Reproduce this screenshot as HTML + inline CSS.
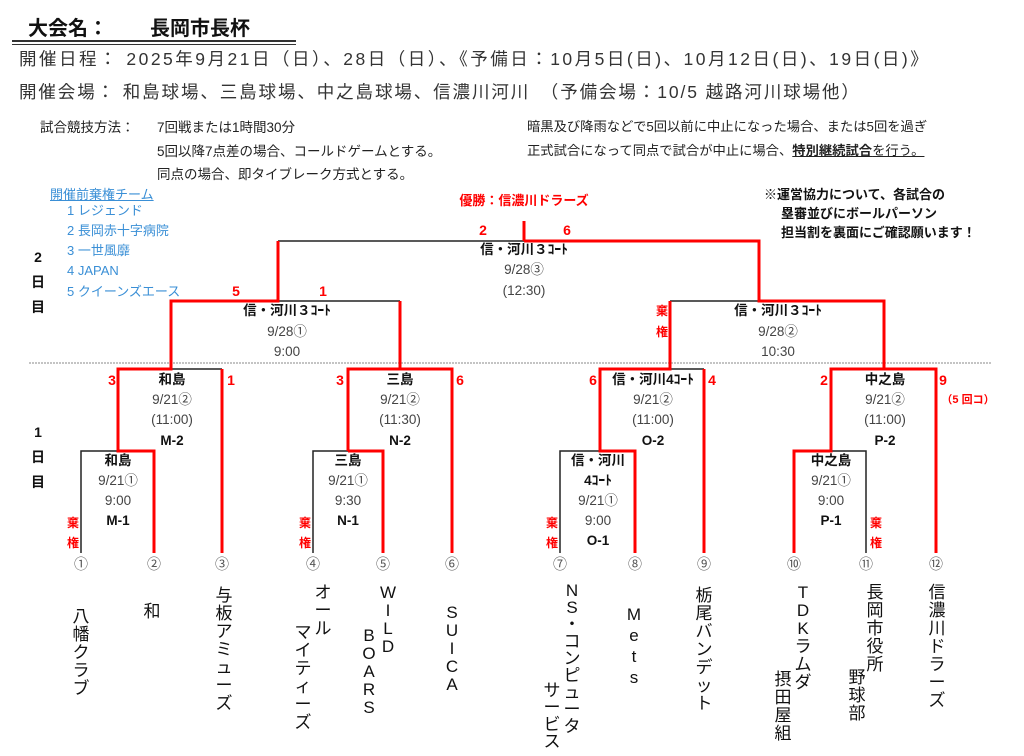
<!DOCTYPE html>
<html><head><meta charset="utf-8">
<style>
html,body{margin:0;padding:0;background:#fff;}
body{width:1024px;height:756px;position:relative;overflow:hidden;font-family:"Liberation Sans","Noto Sans CJK JP",sans-serif;color:#222;}
.a{position:absolute;white-space:nowrap;}
.c{position:absolute;white-space:nowrap;transform:translate(-50%,-50%);text-align:center;line-height:16px;}
.b{font-weight:bold;color:#111;}
.l{font-size:13.5px;color:#444;}
.r{color:#f00;font-weight:bold;font-size:14px;}
.k{color:#f00;font-weight:bold;font-size:12px;}
.n{font-size:14px;color:#555;}
.v{position:absolute;font-size:17px;line-height:18px;width:20px;text-align:center;transform:translateX(-50%);color:#111;}
.blue{color:#3a8fd6;font-size:13px;line-height:16px;height:16px;}
</style></head><body>
<div class="a b" style="left:28px;top:12px;font-size:20px;">大会名：</div>
<div class="a b" style="left:150px;top:12px;font-size:20px;">長岡市長杯</div>
<div class="a" style="left:12px;top:40px;width:284px;border-top:2px solid #333;border-bottom:1.5px solid #333;height:2px;"></div>
<div class="a" style="left:19px;top:48px;font-size:17.5px;letter-spacing:2.5px;color:#333;line-height:22px;">開催日程： 2025年9月21日（日）、28日（日）、《予備日：10月5日(日)、10月12日(日)、19日(日)》</div>
<div class="a" style="left:19px;top:81px;font-size:17.5px;letter-spacing:1.9px;color:#333;line-height:22px;">開催会場： 和島球場、三島球場、中之島球場、信濃川河川　（予備会場：10/5 越路河川球場他）</div>
<div class="a" style="left:40px;top:116px;font-size:13.5px;">試合競技方法：</div>
<div class="a" style="left:157px;top:116px;font-size:13.5px;">7回戦または1時間30分</div>
<div class="a" style="left:157px;top:140px;font-size:13.5px;">5回以降7点差の場合、コールドゲームとする。</div>
<div class="a" style="left:157px;top:163px;font-size:13.5px;">同点の場合、即タイブレーク方式とする。</div>
<div class="a" style="left:527px;top:116px;font-size:13.3px;">暗黒及び降雨などで5回以前に中止になった場合、または5回を過ぎ</div>
<div class="a" style="left:527px;top:140px;font-size:13.3px;">正式試合になって同点で試合が中止に場合、<span style="text-decoration:underline;font-weight:bold">特別継続試合</span><span style="text-decoration:underline">を行う。</span></div>

<div class="a blue" style="left:50px;top:187px;text-decoration:underline;">開催前棄権チーム</div>
<div class="a blue" style="left:67px;top:203px;">1 レジェンド</div>
<div class="a blue" style="left:67px;top:223px;">2 長岡赤十字病院</div>
<div class="a blue" style="left:67px;top:243px;">3 一世風靡</div>
<div class="a blue" style="left:67px;top:263px;">4 JAPAN</div>
<div class="a blue" style="left:67px;top:284px;">5 クイーンズエース</div>

<div class="a b" style="left:764px;top:184px;font-size:13px;">※運営協力について、各試合の</div>
<div class="a b" style="left:781px;top:203px;font-size:13px;">塁審並びにボールパーソン</div>
<div class="a b" style="left:781px;top:222px;font-size:13px;">担当割を裏面にご確認願います！</div>

<div class="c b" style="left:38px;top:257px;font-size:14px;">2</div>
<div class="c b" style="left:38px;top:282px;font-size:14px;">日</div>
<div class="c b" style="left:38px;top:307px;font-size:14px;">目</div>
<div class="c b" style="left:38px;top:432px;font-size:14px;">1</div>
<div class="c b" style="left:38px;top:457px;font-size:14px;">日</div>
<div class="c b" style="left:38px;top:482px;font-size:14px;">目</div>

<svg class="a" style="left:0;top:0" width="1024" height="756">
<line x1="29" y1="363" x2="992" y2="363" stroke="#888" stroke-width="1" stroke-dasharray="2,1"/>
<g fill="none" stroke="#222" stroke-width="1.5">
<line x1="278" y1="241" x2="524" y2="241"/>
<line x1="278" y1="301" x2="400" y2="301"/>
<line x1="670" y1="301" x2="759" y2="301"/>
<line x1="171" y1="369" x2="222" y2="369"/>
<line x1="670" y1="369" x2="704" y2="369"/>
<polyline points="81,553 81,451 118,451"/>
<polyline points="313,553 313,451 348,451"/>
<polyline points="560,553 560,451 600,451"/>
<polyline points="831,451 866,451 866,553"/>
</g>
<g fill="none" stroke="#f00" stroke-width="3">
<line x1="524" y1="221" x2="524" y2="241"/>
<polyline points="524,241 759,241 759,301 884,301 884,369"/>
<polyline points="278,241 278,301 171,301 171,369 118,369 118,451 154,451 154,553"/>
<polyline points="400,301 400,369"/>
<line x1="222" y1="369" x2="222" y2="553"/>
<polyline points="348,451 348,369 452,369 452,553"/>
<polyline points="348,451 383,451 383,553"/>
<polyline points="670,301 670,369 600,369 600,451 635,451 635,553"/>
<line x1="704" y1="369" x2="704" y2="553"/>
<polyline points="794,553 794,451 831,451 831,369 936,369 936,553"/>
</g>
</svg>

<div class="c r" style="left:524px;top:201px;font-size:13px;">優勝：信濃川ドラーズ</div>
<div class="c r" style="left:483px;top:230px;">2</div>
<div class="c r" style="left:567px;top:230px;">6</div>
<div class="c b l" style="left:524px;top:250px;color:#111">信・河川３ｺｰﾄ</div>
<div class="c l" style="left:524px;top:270px;">9/28③</div>
<div class="c l" style="left:524px;top:291px;">(12:30)</div>

<div class="c r" style="left:236px;top:291px;">5</div>
<div class="c r" style="left:323px;top:291px;">1</div>
<div class="c b l" style="left:287px;top:311px;color:#111">信・河川３ｺｰﾄ</div>
<div class="c l" style="left:287px;top:332px;">9/28①</div>
<div class="c l" style="left:287px;top:352px;">9:00</div>

<div class="c k" style="left:662px;top:311px;">棄</div>
<div class="c k" style="left:662px;top:332px;">権</div>
<div class="c b l" style="left:778px;top:311px;color:#111">信・河川３ｺｰﾄ</div>
<div class="c l" style="left:778px;top:332px;">9/28②</div>
<div class="c l" style="left:778px;top:352px;">10:30</div>

<div class="c r" style="left:112px;top:380px;">3</div>
<div class="c r" style="left:231px;top:380px;">1</div>
<div class="c b l" style="left:172px;top:380px;color:#111">和島</div>
<div class="c l" style="left:172px;top:400px;">9/21②</div>
<div class="c l" style="left:172px;top:420px;">(11:00)</div>
<div class="c b l" style="left:172px;top:441px;color:#111">M-2</div>
<div class="c b l" style="left:118px;top:461px;color:#111">和島</div>
<div class="c l" style="left:118px;top:481px;">9/21①</div>
<div class="c l" style="left:118px;top:501px;">9:00</div>
<div class="c b l" style="left:118px;top:521px;color:#111">M-1</div>
<div class="c k" style="left:73px;top:523px;">棄</div>
<div class="c k" style="left:73px;top:543px;">権</div>

<div class="c r" style="left:340px;top:380px;">3</div>
<div class="c r" style="left:460px;top:380px;">6</div>
<div class="c b l" style="left:400px;top:380px;color:#111">三島</div>
<div class="c l" style="left:400px;top:400px;">9/21②</div>
<div class="c l" style="left:400px;top:420px;">(11:30)</div>
<div class="c b l" style="left:400px;top:441px;color:#111">N-2</div>
<div class="c b l" style="left:348px;top:461px;color:#111">三島</div>
<div class="c l" style="left:348px;top:481px;">9/21①</div>
<div class="c l" style="left:348px;top:501px;">9:30</div>
<div class="c b l" style="left:348px;top:521px;color:#111">N-1</div>
<div class="c k" style="left:305px;top:523px;">棄</div>
<div class="c k" style="left:305px;top:543px;">権</div>

<div class="c r" style="left:593px;top:380px;">6</div>
<div class="c r" style="left:712px;top:380px;">4</div>
<div class="c b l" style="left:653px;top:380px;color:#111">信・河川4ｺｰﾄ</div>
<div class="c l" style="left:653px;top:400px;">9/21②</div>
<div class="c l" style="left:653px;top:420px;">(11:00)</div>
<div class="c b l" style="left:653px;top:441px;color:#111">O-2</div>
<div class="c b l" style="left:598px;top:461px;color:#111">信・河川</div>
<div class="c b l" style="left:598px;top:481px;color:#111">4ｺｰﾄ</div>
<div class="c l" style="left:598px;top:501px;">9/21①</div>
<div class="c l" style="left:598px;top:521px;">9:00</div>
<div class="c b l" style="left:598px;top:541px;color:#111">O-1</div>
<div class="c k" style="left:552px;top:523px;">棄</div>
<div class="c k" style="left:552px;top:543px;">権</div>

<div class="c r" style="left:824px;top:380px;">2</div>
<div class="c r" style="left:943px;top:380px;">9</div>
<div class="c k" style="left:968px;top:400px;font-size:11px;">（5 回コ）</div>
<div class="c b l" style="left:885px;top:380px;color:#111">中之島</div>
<div class="c l" style="left:885px;top:400px;">9/21②</div>
<div class="c l" style="left:885px;top:420px;">(11:00)</div>
<div class="c b l" style="left:885px;top:441px;color:#111">P-2</div>
<div class="c b l" style="left:831px;top:461px;color:#111">中之島</div>
<div class="c l" style="left:831px;top:481px;">9/21①</div>
<div class="c l" style="left:831px;top:501px;">9:00</div>
<div class="c b l" style="left:831px;top:521px;color:#111">P-1</div>
<div class="c k" style="left:876px;top:523px;">棄</div>
<div class="c k" style="left:876px;top:543px;">権</div>

<div class="c n" style="left:81px;top:564px;">①</div>
<div class="c n" style="left:154px;top:564px;">②</div>
<div class="c n" style="left:222px;top:564px;">③</div>
<div class="c n" style="left:313px;top:564px;">④</div>
<div class="c n" style="left:383px;top:564px;">⑤</div>
<div class="c n" style="left:452px;top:564px;">⑥</div>
<div class="c n" style="left:560px;top:564px;">⑦</div>
<div class="c n" style="left:635px;top:564px;">⑧</div>
<div class="c n" style="left:704px;top:564px;">⑨</div>
<div class="c n" style="left:794px;top:564px;">⑩</div>
<div class="c n" style="left:866px;top:564px;">⑪</div>
<div class="c n" style="left:936px;top:564px;">⑫</div>

<div class="v" style="left:81px;top:608px;">八<br>幡<br>ク<br>ラ<br>ブ</div>
<div class="v" style="left:152px;top:603px;">和</div>
<div class="v" style="left:224px;top:587px;">与<br>板<br>ア<br>ミ<br>ュ<br>ー<br>ズ</div>
<div class="v" style="left:323px;top:584px;">オ<br>ー<br>ル</div>
<div class="v" style="left:303px;top:624px;">マ<br>イ<br>テ<br>ィ<br>ー<br>ズ</div>
<div class="v" style="left:388px;top:584px;">W<br>I<br>L<br>D</div>
<div class="v" style="left:369px;top:627px;">B<br>O<br>A<br>R<br>S</div>
<div class="v" style="left:452px;top:604px;">S<br>U<br>I<br>C<br>A</div>
<div class="v" style="left:572px;top:582px;line-height:17px;">N<br>S<br>・<br>コ<br>ン<br>ピ<br>ュ<br>ー<br>タ</div>
<div class="v" style="left:552px;top:682px;line-height:17px;">サ<br>ー<br>ビ<br>ス</div>
<div class="v" style="left:634px;top:604px;line-height:21px;">M<br>e<br>t<br>s</div>
<div class="v" style="left:704px;top:587px;">栃<br>尾<br>バ<br>ン<br>デ<br>ッ<br>ト</div>
<div class="v" style="left:803px;top:584px;">T<br>D<br>K<br>ラ<br>ム<br>ダ</div>
<div class="v" style="left:783px;top:671px;">摂<br>田<br>屋<br>組</div>
<div class="v" style="left:875px;top:584px;">長<br>岡<br>市<br>役<br>所</div>
<div class="v" style="left:857px;top:669px;">野<br>球<br>部</div>
<div class="v" style="left:937px;top:584px;">信<br>濃<br>川<br>ド<br>ラ<br>ー<br>ズ</div>
</body></html>
